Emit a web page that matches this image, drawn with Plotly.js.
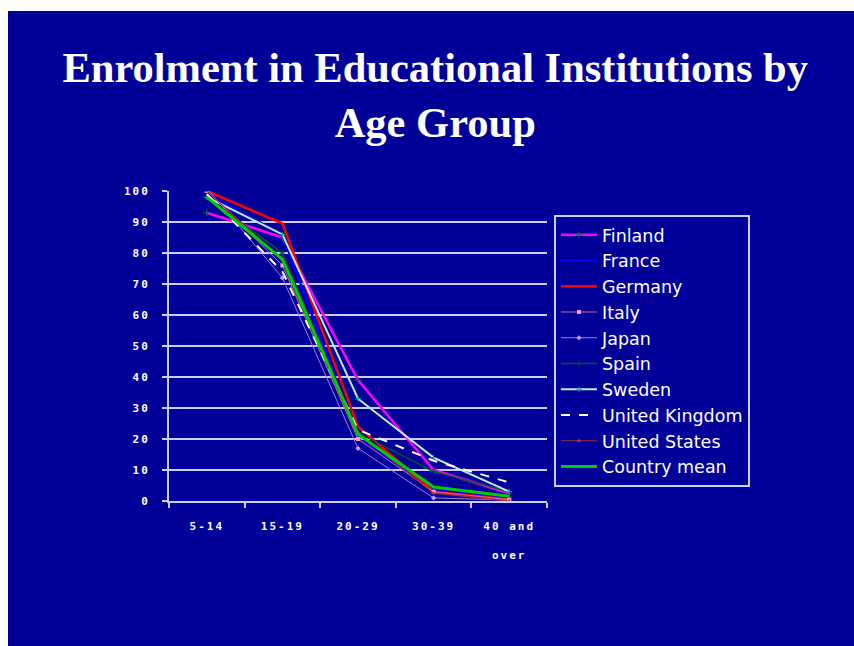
<!DOCTYPE html>
<html>
<head>
<meta charset="utf-8">
<script src="https://cdn.plot.ly/plotly-3.0.1.min.js"></script>
<style>
html,body{margin:0;padding:0;background:#ffffff;width:854px;height:646px;overflow:hidden;}
#chart{position:absolute;left:8px;top:11px;width:846px;height:635px;}
#chart .xtick text, #chart .ytick text{letter-spacing:2px;}
</style>
</head>
<body>
<div id="chart"></div>
<script>
// Categories (age groups)
const ageGroups = ["5-14", "15-19", "20-29", "30-39", "40 and<br><br>over"];

// Series values (% enrolled)
const finland  = [93, 85, 39, 10, 2.5];
const france   = [99, 86, 20, 4, 1];
const germany  = [100, 89.5, 24, 3, 0.5];
const italy    = [100, 76, 20, 3, 0.5];
const japan    = [101, 72, 17, 1, 0.3];
const spain    = [98, 80, 22, 9.5, 3];
const sweden   = [98, 86, 33, 14, 3];
const uk       = [99, 74, 23, 13, 6];
const us       = [100, 77.5, 22, 2.5, 0];
const mean     = [98, 78, 21.5, 4.5, 1.5];

const names = ["Finland","France","Germany","Italy","Japan","Spain","Sweden","United Kingdom","United States","Country mean"];
const series = [finland, france, germany, italy, japan, spain, sweden, uk, us, mean];

const styles = [
  {line:{color:"#ff00ff", width:2.5}, mode:"lines+markers", marker:{color:"#006666", size:5, symbol:"cross-thin", line:{color:"#006666", width:1}}},
  {line:{color:"#0000ff", width:2.5}, mode:"lines"},
  {line:{color:"#ff0000", width:2.5}, mode:"lines"},
  {line:{color:"#cc6699", width:1}, mode:"lines+markers", marker:{color:"#ff99cc", size:4, symbol:"square"}},
  {line:{color:"#aa77dd", width:1}, mode:"lines+markers", marker:{color:"#cc99ff", size:4, symbol:"diamond"}},
  {line:{color:"#005533", width:1.5}, mode:"lines+markers", marker:{color:"#005533", size:4, symbol:"cross-thin", line:{color:"#005533", width:1}}},
  {line:{color:"#bbeedd", width:2}, mode:"lines+markers", marker:{color:"#00aa88", size:4, symbol:"cross-thin", line:{color:"#00aa88", width:1}}},
  {line:{color:"#ffffff", width:2, dash:"dash"}, mode:"lines"},
  {line:{color:"#993344", width:1.2}, mode:"lines+markers", marker:{color:"#cc3333", size:4, symbol:"triangle-up"}},
  {line:{color:"#00cc00", width:3}, mode:"lines"}
];

const traces = series.map((vals, i) => Object.assign({
  type: "scatter",
  x: ageGroups,
  y: vals,
  name: names[i]
}, styles[i]));

const blue = "#000099";
const lav = "#ccccff";
const tickFont = {family: "DejaVu Sans Mono, monospace", size: 11, color: "#ffffff", weight: "bold"};

const layout = {
  width: 846, height: 635,
  paper_bgcolor: blue,
  plot_bgcolor: blue,
  margin: {l: 161, r: 307, t: 180, b: 145, pad: 0},
  title: {
    text: "Enrolment in Educational Institutions by<br>Age Group",
    font: {family: "Liberation Serif, Times New Roman, serif", size: 42.5, color: "#ffffff", weight: "bold"},
    x: 0.505, xanchor: "center",
    yref: "container", y: 1 - 71/635, yanchor: "top"
  },
  showlegend: true,
  legend: {
    x: 1.0185, xanchor: "left",
    y: 0.923, yanchor: "top",
    bgcolor: blue,
    bordercolor: lav, borderwidth: 2,
    itemwidth: 36,
    font: {family: "DejaVu Sans, sans-serif", size: 17.5, color: "#ffffff"},
    tracegroupgap: 0
  },
  xaxis: {
    type: "category",
    range: [-0.5, 4.5],
    showgrid: false,
    showline: true, linecolor: lav, linewidth: 2,
    ticks: "outside", tickson: "boundaries", ticklen: 5, tickcolor: lav, tickwidth: 2,
    tickfont: tickFont,
    ticklabelstandoff: 14,
    zeroline: false,
    fixedrange: true
  },
  yaxis: {
    range: [0, 100], dtick: 10,
    showgrid: true, gridcolor: lav, gridwidth: 2,
    showline: true, linecolor: lav, linewidth: 2,
    ticks: "outside", ticklen: 5, tickcolor: lav, tickwidth: 2,
    tickfont: tickFont,
    ticklabelstandoff: 10,
    zeroline: false,
    fixedrange: true
  }
};

Plotly.newPlot("chart", traces, layout, {displayModeBar: false, staticPlot: true});
</script>
</body>
</html>
